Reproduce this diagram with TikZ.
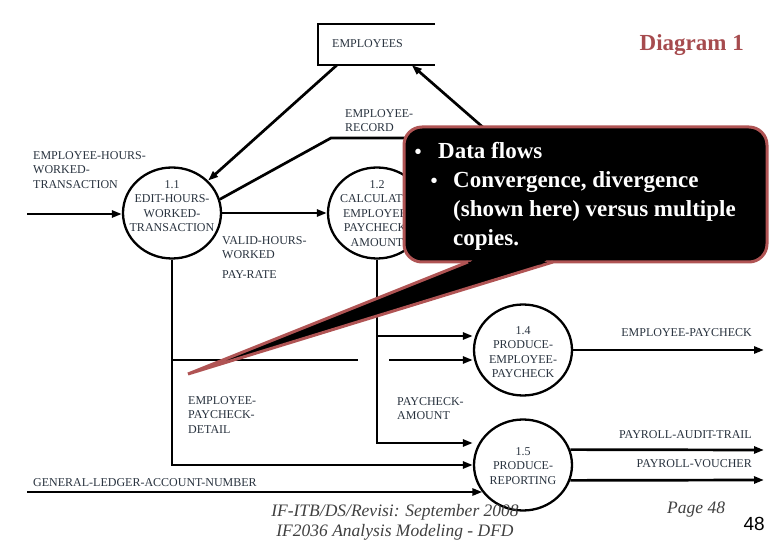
\documentclass[tikz,border=0pt]{standalone}
\usepackage{fontspec}
\setmainfont{Liberation Serif}
\newfontfamily\pagefont{Liberation Sans}
\usetikzlibrary{positioning,shapes.geometric,arrows.meta,calc}
\definecolor{txtgray}{RGB}{40,50,62}
\definecolor{titlered}{RGB}{166,75,78}
\definecolor{calloutred}{RGB}{176,84,84}

\begin{document}
\begin{tikzpicture}[x=1pt,y=-1pt,
	flow/.style={line width=2.7pt},
	arr/.style={flow,-{Triangle[length=10pt,width=7pt]}},
	proc/.style={draw,line width=2.3pt,ellipse,minimum width=98pt,minimum height=91pt,inner sep=0pt},
	ptext/.style={text=txtgray,font=\fontsize{12}{14.5}\selectfont,align=center,inner sep=0pt,anchor=north},
	flowlbl/.style={text=txtgray,font=\fontsize{12}{14.5}\selectfont,align=left,inner sep=0pt,anchor=north west},
	callout/.style={fill=black,draw=calloutred,line width=3pt},
	cotext/.style={text=white,font=\fontsize{23}{29}\selectfont\bfseries,inner sep=0pt,anchor=base west},
	cobullet/.style={text=white,font=\fontsize{20}{20}\selectfont\bfseries,inner sep=0pt,anchor=base},
	foot/.style={text=black!75,font=\fontsize{17.5}{20}\selectfont\itshape,inner sep=0pt}]
			\useasboundingbox (0,0) rectangle (780,540);
			
			% store and processes
			\node[minimum width=117pt,minimum height=41pt,inner sep=0pt] (emp) at (376.5,44.5) {};
			\draw[line width=2.3pt] (emp.north east) -- (emp.north west) -- (emp.south west) -- (emp.south east);
			\node[flowlbl] (temp) at (332,39) {EMPLOYEES};
			\node[proc] (p11) at (172,213) {};
			\node[proc] (p12) at (377,213) {};
			\node[proc] (p14) at (523,350) {};
			\node[proc] (p15) at (523,465) {};
			\node[ptext] (t11) at (172,180) {1.1\\EDIT-HOURS-\\WORKED-\\TRANSACTION};
			\node[ptext] (t12) at (377,180) {1.2\\CALCULATE-\\EMPLOYEE-\\PAYCHECK-\\AMOUNT};
			\node[ptext] (t14) at (523,326) {1.4\\PRODUCE-\\EMPLOYEE-\\PAYCHECK};
			\node[ptext] (t15) at (523,447) {1.5\\PRODUCE-\\REPORTING};
			
			\coordinate (in1) at (27,214);
			\coordinate (s1) at ($(emp.south west)+(19,0)$);
			\coordinate (s2) at ($(emp.south west)+(94,0)$);
			\coordinate (rec) at (430,138);
			\coordinate (recb) at (331,138);
			\coordinate (h13) at (509,150);
			\coordinate (j1) at (p11.south |- 0,360);
			\coordinate (g1) at (358,360);
			\coordinate (g2) at (389,360);
			\coordinate (j2) at (p12.south |- 0,336);
			\coordinate (gl) at (27,492);
			\coordinate (o1) at (764,350);
			\coordinate (o2) at (764,450);
			\coordinate (o3) at (764,480);
			
			\begin{scope}[flow]
			\draw[arr] (in1) -- (in1 -| p11.west);
			\draw[arr] (p11) -- (p12);
			\draw[arr] (s1) -- (p11);
			\draw (rec) -- (recb) -- (p11.16);
			\draw[arr] (h13) -- (s2);
			\draw[arr] (p11.south) |- (p15.west);
			\draw (j1) -- (g1);
			\draw[arr] (g2) -- (p14.west |- g2);
			\draw[arr] (p12.south) |- ([yshift=22pt]p15.west);
			\draw[arr] (j2) -- (p14.west |- j2);
			\draw[arr] (gl) -- (gl -| p15.214);
			\draw[arr] (p14) -- (o1);
			\draw[arr] (p15.18) -- (o2);
			\draw[arr] (p15.-18) -- (o3);
			\end{scope}
			
			\node[flowlbl] (lrec) at (345,109) {EMPLOYEE-\\RECORD};
			\node[flowlbl] (lin) at (33,151) {EMPLOYEE-HOURS-\\WORKED-\\TRANSACTION};
			\node[flowlbl] (lval) at (222,236) {VALID-HOURS-\\WORKED};
			\node[flowlbl] (lrate) at (222,270) {PAY-RATE};
			\node[flowlbl] (ldet) at (188,396) {EMPLOYEE-\\PAYCHECK-\\DETAIL};
			\node[flowlbl] (lamt) at (397,397) {PAYCHECK-\\AMOUNT};
			\node[flowlbl] (lgl) at (33,478) {GENERAL-LEDGER-ACCOUNT-NUMBER};
			\node[flowlbl,anchor=north east] (lpay) at (752,328) {EMPLOYEE-PAYCHECK};
			\node[flowlbl,anchor=north east] (laud) at (752,430) {PAYROLL-AUDIT-TRAIL};
			\node[flowlbl,anchor=north east] (lvou) at (752,459) {PAYROLL-VOUCHER};
			
			\node[font=\fontsize{23}{26}\selectfont\bfseries,text=titlered,anchor=base east,inner sep=0pt] (title) at (744,51) {Diagram 1};
			
			\node[foot,anchor=base] (f1) at (395,516) {IF-ITB/DS/Revisi: September 2008};
			\node[foot,anchor=base] (f2) at (395,536) {IF2036 Analysis Modeling - DFD};
			\node[foot,anchor=base west] (pg) at (667,513) {Page 48};
			\node[font=\pagefont\fontsize{19}{22}\selectfont,anchor=base east,inner sep=0pt] (num) at (765,530) {48};
			
			% callout
			\draw[callout,rounded corners=18pt] (404,127) rectangle (767,262);
			\draw[callout,line join=miter] (468,262) -- (188,374) -- (553,262);
			\fill (473,259.5) -- (547,259.5) -- (541,264.5) -- (468,264.5) -- cycle;
			\node[cobullet] (b1) at (418,159) {\textbullet};
			\node[cobullet] (b2) at (434,188) {\textbullet};
			\node[cotext] (c1) at (438,159) {Data flows};
			\node[cotext] (c2) at (453,188) {Convergence, divergence};
			\node[cotext] (c3) at (453,217) {(shown here) versus multiple};
			\node[cotext] (c4) at (453,246) {copies.};
\end{tikzpicture}
\end{document}
